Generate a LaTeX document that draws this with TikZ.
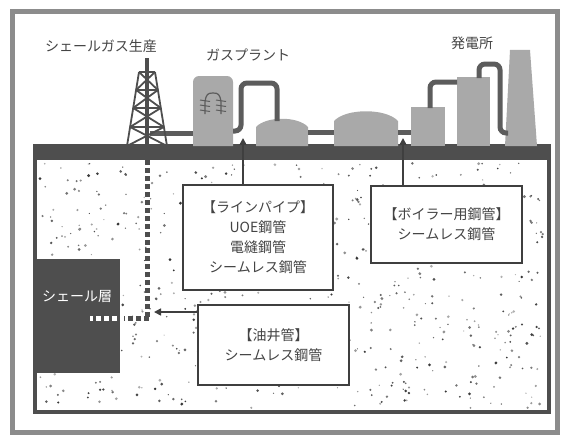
\documentclass[tikz,border=0pt]{standalone}
\usepackage{fontspec}
\setmainfont{Noto Sans CJK JP}
\usepackage{xcolor}
\usepackage{tikz}
\usetikzlibrary{arrows.meta, positioning}

\definecolor{framegray}{HTML}{8C8C8C}
\definecolor{earthgray}{HTML}{4E4E4E}
\definecolor{plantgray}{HTML}{A9A9A9}
\definecolor{pipegray}{HTML}{5C5C5C}
\definecolor{boxgray}{HTML}{3F3F3F}
\definecolor{textgray}{HTML}{444444}

\begin{document}
\begin{tikzpicture}[x=1pt, y=-1pt,
    font=\fontsize{14}{20}\selectfont,
    plant/.style={fill=plantgray},
    pipe/.style={draw=pipegray, line width=5pt, rounded corners=6pt},
    tower/.style={draw=earthgray, line width=1.8pt},
    well/.style={draw=earthgray, line width=5pt, dash pattern=on 5pt off 3pt},
    pipebox/.style={draw=boxgray, line width=2.5pt, fill=white, text=textgray,
        align=center, inner sep=0pt},
    feed/.style={draw=boxgray, line width=1.6pt, -{Triangle[width=7pt,length=7pt]}},
    title/.style={text=textgray}]
    \useasboundingbox (0,0) rectangle (564,436);

    % Outer frame
    \draw[framegray, line width=5pt] (12,12) rectangle (557,432);

    % Underground with speckles
    \draw[earthgray, line width=4pt, fill=white] (35,146) rectangle (549,412);
    \pgfmathsetseed{11}
    \foreach \i in {1,...,650} {
        \pgfmathsetmacro\sx{40+504*rnd}
        \pgfmathsetmacro\sy{163+245*rnd}
        \pgfmathsetmacro\sr{0.6+1.0*rnd}
        \pgfmathsetmacro\sk{30+50*rnd}
        \fill[black!\sk] (\sx,\sy) circle (\sr pt);
    }
    \fill[earthgray] (35,146) rectangle (549,160);

    % Gas plant
    \fill[plant] (193,146) [rounded corners=6pt] -- (193,76) -- (233,76)
        [sharp corners] -- (233,146) -- cycle;
    \draw[pipegray, line width=1.2pt]
        (205,114) -- (205,102) .. controls (206,94) and (208,93) .. (213,93)
        .. controls (218,93) and (220,94) .. (221,102) -- (221,114);
    \foreach \yy in {100,105,110} {
        \draw[pipegray, line width=1pt] (200,\yy) -- (210,\yy+1.5);
        \draw[pipegray, line width=1pt] (216,\yy) -- (226,\yy+1.5);
    }
    \fill[plant] (256,146) -- (256,127) .. controls (266,116) and (298,116) .. (308,127)
        -- (308,146) -- cycle;
    \fill[plant] (334,146) -- (334,121) .. controls (346,108) and (386,108) .. (398,121)
        -- (398,146) -- cycle;

    % Power station
    \fill[plant] (411,107) rectangle (445,146);
    \fill[plant] (457,77) rectangle (490,146);
    \fill[plant] (510,50) -- (530,50) -- (537,146) -- (505,146) -- cycle;

    % Pipes between the units
    \draw[pipe] (150,133) -- (193,133);
    \draw[pipe] (233,131) -- (241,131) -- (241,83) -- (277,83) -- (277,121);
    \draw[pipe] (308,132) -- (334,132);
    \draw[pipe] (398,132) -- (411,132);
    \draw[pipe] (430,108) -- (430,82) -- (457,82);
    \draw[pipe] (479,78) -- (479,64) -- (500,64) -- (500,133) -- (508,133);

    % Drilling rig
    \foreach \ya/\wa/\yb/\wb in {72/8/90/10.9, 90/10.9/108/13.8, 108/13.8/127/16.9, 127/16.9/146/20} {
        \draw[tower] (147-\wa,\ya) -- (147-\wb,\yb);
        \draw[tower] (147+\wa,\ya) -- (147+\wb,\yb);
        \draw[tower] (147-\wa,\ya) -- (147+\wb,\yb);
        \draw[tower] (147+\wa,\ya) -- (147-\wb,\yb);
        \draw[tower] (147-\wa,\ya) -- (147+\wa,\ya);
    }
    \draw[earthgray, line width=3.5pt] (147,58) -- (147,146);

    % Shale layer and well
    \fill[earthgray] (35,259) rectangle (120,373);
    \node[text=white] (shale) at (77,297) {シェール層};
    \coordinate (wellhead) at (147,160);
    \coordinate (wellbend) at (147,318);
    \coordinate (wellend) at (154,312);
    \draw[well] (wellhead) -- (wellbend);
    \draw[well] (149,318) -- (124,318);
    \draw[well, draw=white] (117,318) -- (90,318);

    % Steel pipe boxes
    \node[pipebox, minimum width=150pt, minimum height=105pt] (linepipe) at (258,237.5)
        {【ラインパイプ】\\UOE鋼管\\電縫鋼管\\シームレス鋼管};
    \node[pipebox, minimum width=151pt, minimum height=77pt] (boiler) at (446.5,224.5)
        {【ボイラー用鋼管】\\シームレス鋼管};
    \node[pipebox, minimum width=151pt, minimum height=80pt] (oilwell) at (273.5,345)
        {【油井管】\\シームレス鋼管};

    % Where each pipe is used
    \coordinate (plantin) at (243,138);
    \coordinate (powerin) at (403,138);
    \draw[feed] (plantin |- linepipe.north) -- (plantin);
    \draw[feed] (powerin |- boiler.north) -- (powerin);
    \draw[feed] (oilwell.west |- wellend) -- (wellend);

    % Labels
    \node[title] (rig) at (101,46) {シェールガス生産};
    \node[title] (gasplant) at (248,55) {ガスプラント};
    \node[title] (power) at (472,43) {発電所};
\end{tikzpicture}
\end{document}
